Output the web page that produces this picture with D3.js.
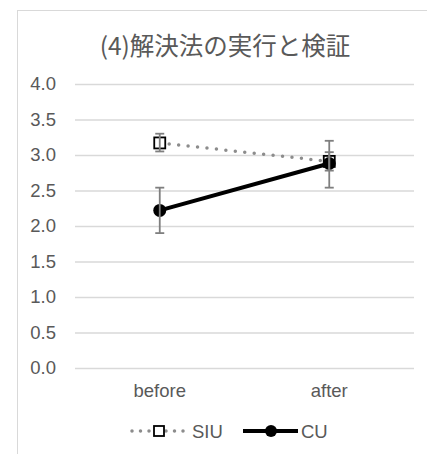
<!DOCTYPE html>
<html>
<head>
<meta charset="utf-8">
<script src="https://cdn.jsdelivr.net/npm/d3@7"></script>
<style>
  html, body { margin: 0; padding: 0; background: #fff; }
  svg { display: block; }
  text { font-family: "Liberation Sans", Arial, sans-serif; fill: #595959; }
</style>
</head>
<body>
<svg id="chart" width="427" height="454"></svg>
<script>
// Chart data
const categories = ["before", "after"];
const siuMean = [3.17, 2.91];
const siuLow  = [3.05, 2.78];
const siuHigh = [3.30, 3.04];
const cuMean  = [2.22, 2.88];
const cuLow   = [1.90, 2.54];
const cuHigh  = [2.54, 3.20];
const yTicks  = [0, 0.5, 1, 1.5, 2, 2.5, 3, 3.5, 4];
const titleText = "(4)解決法の実行と検証";
const seriesNames = ["SIU", "CU"];

const svg = d3.select("#chart");
const W = 427, H = 454;
const labelSize = "18.5px";

// outer chart border
svg.append("rect")
  .attr("x", 17.5).attr("y", 10.5)
  .attr("width", W + 10).attr("height", H + 10)
  .attr("fill", "none").attr("stroke", "#d9d9d9").attr("stroke-width", 1);

const plot = { left: 75, right: 414, top: 84, bottom: 368 };

const x = d3.scaleBand().domain(categories).range([plot.left, plot.right]);
const y = d3.scaleLinear().domain([0, 4]).range([plot.bottom, plot.top]);
const cx = c => x(c) + x.bandwidth() / 2;

// title
svg.append("text")
  .attr("x", 225).attr("y", 55)
  .attr("text-anchor", "middle")
  .style("font-family", "'Noto Sans CJK JP', sans-serif")
  .style("font-size", "24.5px")
  .attr("fill", "#555")
  .text(titleText);

// gridlines and value labels
const yAxis = d3.axisLeft(y).tickValues(yTicks).tickFormat(d3.format(".1f"))
  .tickSize(-(plot.right - plot.left)).tickPadding(19);
const gy = svg.append("g").attr("transform", `translate(${plot.left},0)`).call(yAxis);
gy.select(".domain").remove();
gy.selectAll(".tick line").attr("stroke", "#d9d9d9").attr("stroke-width", 1.3);
gy.selectAll(".tick text").style("font-size", labelSize).attr("fill", "#595959")
  .style("font-family", "'Liberation Sans', Arial, sans-serif");

// category axis labels
const xAxis = d3.axisBottom(x).tickSize(0).tickPadding(16);
const gx = svg.append("g").attr("transform", `translate(0,${plot.bottom})`).call(xAxis);
gx.select(".domain").remove();
gx.selectAll(".tick text").style("font-size", labelSize).attr("fill", "#595959")
  .style("font-family", "'Liberation Sans', Arial, sans-serif");

const line = d3.line().x((d, i) => cx(categories[i])).y(d => y(d));

// SIU: dotted gray line with open squares
svg.append("path").datum(siuMean)
  .attr("d", line)
  .attr("fill", "none").attr("stroke", "#8c8c8c").attr("stroke-width", 3.5)
  .attr("stroke-linecap", "round").attr("stroke-dasharray", "0 9.5");

// CU: solid black line
svg.append("path").datum(cuMean)
  .attr("d", line)
  .attr("fill", "none").attr("stroke", "#000").attr("stroke-width", 4);

svg.selectAll(".siu-mark").data(siuMean).enter().append("rect")
  .attr("x", (d, i) => cx(categories[i]) - 5.5)
  .attr("y", d => y(d) - 5.5)
  .attr("width", 11).attr("height", 11)
  .attr("fill", "#fff").attr("stroke", "#000").attr("stroke-width", 1.8);

svg.selectAll(".cu-mark").data(cuMean).enter().append("circle")
  .attr("cx", (d, i) => cx(categories[i]))
  .attr("cy", d => y(d))
  .attr("r", 6.5).attr("fill", "#000");

// error bars
function errorBars(low, high) {
  const g = svg.append("g").attr("stroke", "#7f7f7f").attr("stroke-width", 1.8);
  categories.forEach((c, i) => {
    const xc = cx(c);
    g.append("line").attr("x1", xc).attr("x2", xc).attr("y1", y(low[i])).attr("y2", y(high[i]));
    g.append("line").attr("x1", xc - 4.5).attr("x2", xc + 4.5).attr("y1", y(low[i])).attr("y2", y(low[i]));
    g.append("line").attr("x1", xc - 4.5).attr("x2", xc + 4.5).attr("y1", y(high[i])).attr("y2", y(high[i]));
  });
}
errorBars(siuLow, siuHigh);
errorBars(cuLow, cuHigh);

// legend
const ly = 431;
const leg = svg.append("g");
leg.append("line").attr("x1", 132).attr("x2", 184).attr("y1", ly).attr("y2", ly)
  .attr("stroke", "#8c8c8c").attr("stroke-width", 3.5)
  .attr("stroke-linecap", "round").attr("stroke-dasharray", "0 8.5");
leg.append("rect").attr("x", 159 - 5).attr("y", ly - 5).attr("width", 10).attr("height", 10)
  .attr("fill", "#fff").attr("stroke", "#000").attr("stroke-width", 1.8);
leg.append("text").attr("x", 192).attr("y", ly + 6.5).style("font-size", labelSize).text(seriesNames[0]);

leg.append("line").attr("x1", 243).attr("x2", 298).attr("y1", ly).attr("y2", ly)
  .attr("stroke", "#000").attr("stroke-width", 4);
leg.append("circle").attr("cx", 271).attr("cy", ly).attr("r", 6).attr("fill", "#000");
leg.append("text").attr("x", 301).attr("y", ly + 6.5).style("font-size", labelSize).text(seriesNames[1]);
</script>
</body>
</html>
